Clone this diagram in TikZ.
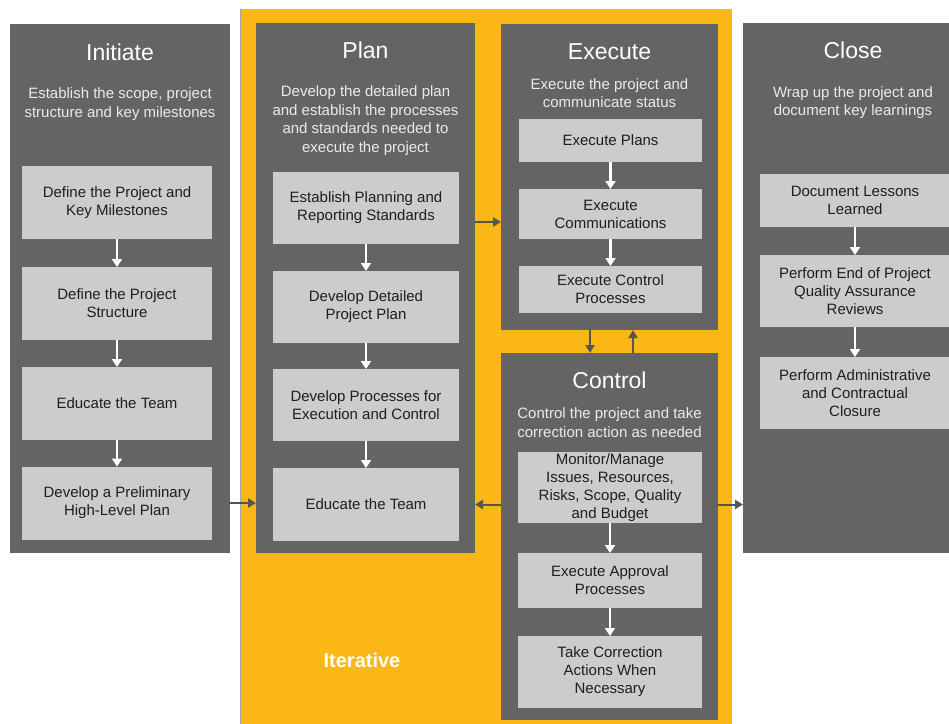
\documentclass[tikz,border=0pt]{standalone}
\usepackage{fontspec}
\setmainfont{Liberation Sans}
\usepackage{tikz}
\usetikzlibrary{arrows.meta,positioning}

\definecolor{slate}{RGB}{100,100,100}
\definecolor{stone}{RGB}{204,204,204}
\definecolor{amber}{RGB}{251,183,21}
\definecolor{ink}{RGB}{30,30,30}

\begin{document}
\begin{tikzpicture}[
    x=1pt, y=-1pt,
    phase/.style={fill=slate, inner sep=0pt, outer sep=0pt},
    stepbox/.style={fill=stone, text=ink, align=center, inner sep=1pt, outer sep=0pt,
                font=\fontsize{15}{18}\selectfont},
    ttl/.style={text=white, font=\fontsize{23}{26}\selectfont},
    sub/.style={text=white!92!black, align=center, font=\fontsize{15}{18.5}\selectfont},
    flow/.style={-{Triangle[width=10pt,length=8pt]}, line width=2.6pt, white},
    link/.style={-{Triangle[width=9pt,length=8pt]}, line width=2pt, slate!85!black}
]
\useasboundingbox (0,0) rectangle (949,723);

% ---------- iterative band ----------
\node[fill=amber, inner sep=0pt, minimum width=491pt, minimum height=716pt] (band) at (486.5,367) {};
\draw[gray!70, line width=0.8pt] (band.north west) -- (band.south west);
\node[text=white, font=\bfseries\fontsize{20}{24}\selectfont] (iter) at (362,660) {Iterative};

% ---------- Initiate ----------
\node[phase, minimum width=220pt, minimum height=529pt] (init) at (120,288.5) {};
\node[ttl] (titleI) at (120,52) {Initiate};
\node[sub] (subI) at (120,104) {Establish the scope, project\\structure and key milestones};
\node[stepbox, minimum width=190pt, minimum height=73pt] (i1) at (117,202.5) {Define the Project and\\Key Milestones};
\node[stepbox, minimum width=190pt, minimum height=73pt] (i2) at (117,303.5) {Define the Project\\Structure};
\node[stepbox, minimum width=190pt, minimum height=73pt] (i3) at (117,403.5) {Educate the Team};
\node[stepbox, minimum width=190pt, minimum height=73pt] (i4) at (117,503) {Develop a Preliminary\\High-Level Plan};
\draw[flow] (i1) -- (i2);
\draw[flow] (i2) -- (i3);
\draw[flow] (i3) -- (i4);

% ---------- Plan ----------
\node[phase, minimum width=219pt, minimum height=530pt] (plan) at (365.5,288) {};
\node[ttl] (titleP) at (365.5,50) {Plan};
\node[sub] (subP) at (365.5,120.5) {Develop the detailed plan\\and establish the processes\\and standards needed to\\execute the project};
\node[stepbox, minimum width=186pt, minimum height=72pt] (p1) at (366,208) {Establish Planning and\\Reporting Standards};
\node[stepbox, minimum width=186pt, minimum height=72pt] (p2) at (366,307) {Develop Detailed\\Project Plan};
\node[stepbox, minimum width=186pt, minimum height=72pt] (p3) at (366,405) {Develop Processes for\\Execution and Control};
\node[stepbox, minimum width=186pt, minimum height=73pt] (p4) at (366,504.5) {Educate the Team};
\draw[flow] (p1) -- (p2);
\draw[flow] (p2) -- (p3);
\draw[flow] (p3) -- (p4);

% ---------- Execute ----------
\node[phase, minimum width=217pt, minimum height=306pt] (exec) at (609.5,177) {};
\node[ttl] (titleE) at (609.5,52) {Execute};
\node[sub] (subE) at (609.5,93) {Execute the project and\\communicate status};
\node[stepbox, minimum width=183pt, minimum height=43pt] (e1) at (610.5,140.5) {Execute Plans};
\node[stepbox, minimum width=183pt, minimum height=50pt] (e2) at (610.5,214) {Execute\\Communications};
\node[stepbox, minimum width=183pt, minimum height=47pt] (e3) at (610.5,289.5) {Execute Control\\Processes};
\draw[flow] (e1) -- (e2);
\draw[flow] (e2) -- (e3);

% ---------- Control ----------
\node[phase, minimum width=217pt, minimum height=367pt] (ctrl) at (609.5,536.5) {};
\node[ttl] (titleC) at (609.5,380) {Control};
\node[sub] (subC) at (609.5,422.5) {Control the project and take\\correction action as needed};
\node[stepbox, minimum width=184pt, minimum height=71pt] (c1) at (610,487.5) {Monitor/Manage\\Issues, Resources,\\Risks, Scope, Quality\\and Budget};
\node[stepbox, minimum width=184pt, minimum height=55pt] (c2) at (610,580.5) {Execute Approval\\Processes};
\node[stepbox, minimum width=184pt, minimum height=72pt] (c3) at (610,672) {Take Correction\\Actions When\\Necessary};
\draw[flow] (c1) -- (c2);
\draw[flow] (c2) -- (c3);

% ---------- Close ----------
\node[phase, minimum width=220pt, minimum height=530pt] (close) at (853,288) {};
\node[ttl] (titleD) at (853,50) {Close};
\node[sub] (subD) at (853,102.5) {Wrap up the project and\\document key learnings};
\node[stepbox, minimum width=190pt, minimum height=53pt] (d1) at (855,200.5) {Document Lessons\\Learned};
\node[stepbox, minimum width=190pt, minimum height=72pt] (d2) at (855,291) {Perform End of Project\\Quality Assurance\\Reviews};
\node[stepbox, minimum width=190pt, minimum height=72pt] (d3) at (855,393) {Perform Administrative\\and Contractual\\Closure};
\draw[flow] (d1) -- (d2);
\draw[flow] (d2) -- (d3);

% ---------- links between phases ----------
\coordinate (pe) at (488,222);
\draw[link] (init.east |- i4) -- (plan.west |- i4);
\draw[link] (plan.east |- pe) -- (exec.west |- pe);
\draw[link] ([xshift=-19.5pt]exec.south) -- ([xshift=-19.5pt]ctrl.north);
\draw[link] ([xshift=23.5pt]ctrl.north) -- ([xshift=23.5pt]exec.south);
\draw[link] (ctrl.west |- p4) -- (plan.east |- p4);
\draw[link] (ctrl.east |- p4) -- (close.west |- p4);

\end{tikzpicture}
\end{document}
